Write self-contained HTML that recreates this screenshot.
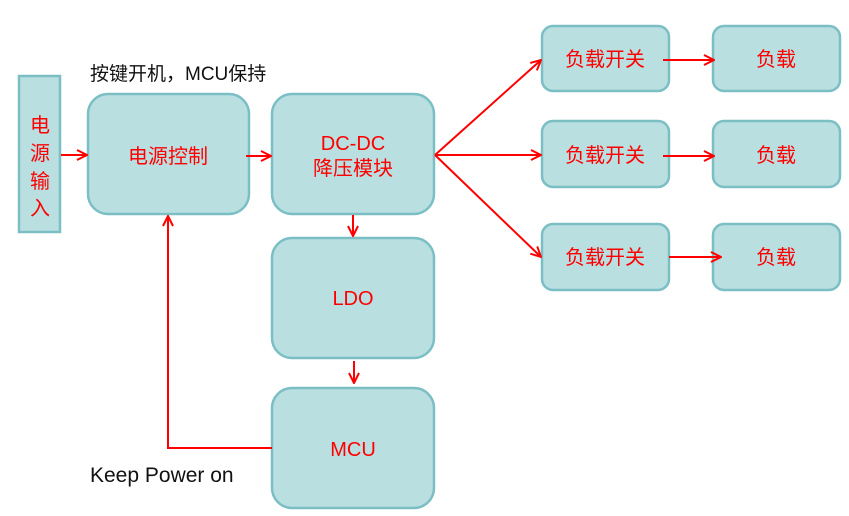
<!DOCTYPE html>
<html><head><meta charset="utf-8"><style>
html,body{margin:0;padding:0;background:#fff;}
svg{display:block;}
text{font-family:"Liberation Sans","Noto Sans CJK SC",sans-serif;}
</style></head><body>
<svg width="849" height="516" viewBox="0 0 849 516" xmlns="http://www.w3.org/2000/svg">
<defs>
<marker id="a" viewBox="0 0 12 12" refX="11" refY="6" markerWidth="12" markerHeight="12" markerUnits="userSpaceOnUse" orient="auto">
<path d="M1,1 L11,6 L1,11" fill="none" stroke="#f00" stroke-width="2"/>
</marker>
</defs>
<g fill="#b9dfe1" stroke="#7bbfc5" stroke-width="2.5">
<rect x="19" y="76" width="41" height="156"/>
<rect x="88" y="94" width="161" height="120" rx="20"/>
<rect x="272" y="94" width="162" height="120" rx="20"/>
<rect x="272" y="238" width="162" height="120" rx="20"/>
<rect x="272" y="388" width="162" height="120" rx="20"/>
<rect x="542" y="26" width="127" height="65" rx="11"/>
<rect x="542" y="121" width="127" height="66" rx="11"/>
<rect x="542" y="224" width="127" height="66" rx="11"/>
<rect x="713" y="26" width="127" height="65" rx="11"/>
<rect x="713" y="121" width="127" height="66" rx="11"/>
<rect x="713" y="224" width="127" height="66" rx="11"/>
</g>
<g stroke="#f00" stroke-width="2" fill="none" marker-end="url(#a)">
<line x1="61" y1="155" x2="87" y2="155"/>
<line x1="246" y1="156" x2="271" y2="156"/>
<line x1="435" y1="155" x2="541" y2="60"/>
<line x1="435" y1="155" x2="541" y2="155"/>
<line x1="435" y1="155" x2="541" y2="257"/>
<line x1="663" y1="60" x2="714" y2="60"/>
<line x1="663" y1="156" x2="714" y2="156"/>
<line x1="669" y1="257" x2="721" y2="257"/>
<line x1="353" y1="215" x2="353" y2="236"/>
<line x1="354" y1="361" x2="354" y2="383"/>
<polyline points="272,448 168,448 168,216"/>
</g>
<g fill="#f00" font-size="20" text-anchor="middle">
<text x="40" y="132">电</text>
<text x="40" y="160">源</text>
<text x="40" y="188">输</text>
<text x="40" y="215">入</text>
<text x="168" y="163">电源控制</text>
<text x="353" y="150">DC-DC</text>
<text x="353" y="175">降压模块</text>
<text x="353" y="305">LDO</text>
<text x="353" y="456">MCU</text>
<text x="605" y="66">负载开关</text>
<text x="605" y="162">负载开关</text>
<text x="605" y="264">负载开关</text>
<text x="776" y="66">负载</text>
<text x="776" y="162">负载</text>
<text x="776" y="264">负载</text>
</g>
<text x="90" y="80" font-size="19" fill="#111">按键开机，MCU保持</text>
<text x="90" y="482" font-size="21" fill="#111">Keep Power on</text>
</svg>
</body></html>
